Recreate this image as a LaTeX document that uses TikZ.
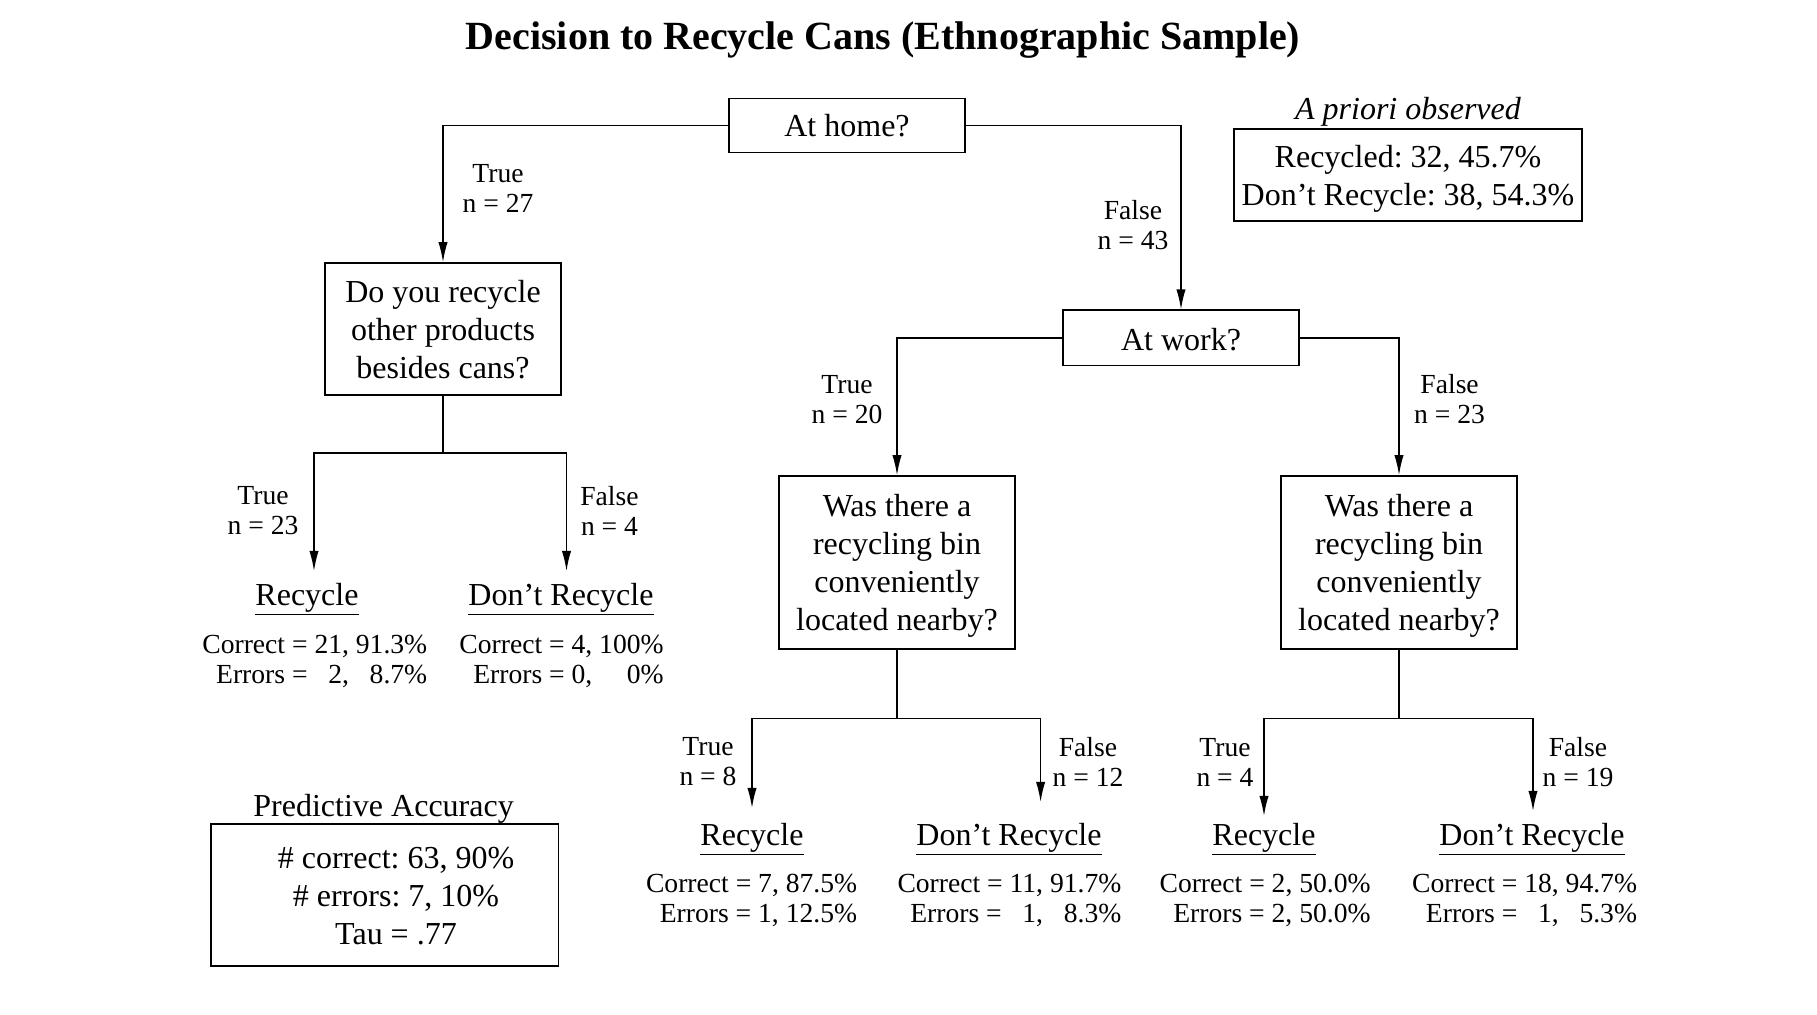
\documentclass[tikz,border=0pt]{standalone}
\usepackage{fontspec}
\setmainfont{Liberation Serif}
\frenchspacing
\usetikzlibrary{arrows.meta}
\tikzset{
  >={Latex[length=10pt,width=4.6pt]},
  conn/.style={line width=0.7pt},
  qbox/.style={draw, line width=0.8pt, inner sep=0pt},
  txt/.style={align=center, inner sep=0pt, font=\fontsize{16}{19}\selectfont},
  lbl/.style={align=center, inner sep=0pt, font=\fontsize{13.8}{15}\selectfont},
  stat/.style={align=right, anchor=east, inner sep=0pt, font=\fontsize{13.8}{15}\selectfont},
  leaf/.style={inner sep=0pt, font=\fontsize{16}{19}\selectfont},
}
\begin{document}
\begin{tikzpicture}[x=0.5pt,y=-0.5pt]
\useasboundingbox (0,0) rectangle (1817,1015);
% title
\node[inner sep=0pt, font=\fontsize{20}{24}\bfseries\selectfont] (title) at (883,40.5) {Decision to Recycle Cans (Ethnographic Sample)};
% a priori
\node[txt, font=\fontsize{16}{19}\itshape\selectfont] (aprlbl) at (1408,111.5) {A priori observed};
\node[qbox, minimum width=174pt, minimum height=46pt] (apr) at (1408,175) {};
\node[txt] (aprt) at (1408,178.5) {Recycled: 32, 45.7\%\\Don’t Recycle: 38, 54.3\%};
% questions
\node[qbox, minimum width=118pt, minimum height=27pt] (home) at (847,125.5) {};
\node[txt] (homet) at (847,126) {At home?};
\node[qbox, minimum width=118pt, minimum height=66pt] (q2) at (443,329) {};
\node[txt] (q2t) at (443,329.5) {Do you recycle\\other products\\besides cans?};
\node[qbox, minimum width=118pt, minimum height=27.7pt] (work) at (1181,338) {};
\node[txt] (workt) at (1181,339.5) {At work?};
\node[qbox, minimum width=118pt, minimum height=86.5pt] (q3) at (897,562.5) {};
\node[txt] (q3t) at (897,565.5) {Was there a\\recycling bin\\conveniently\\located nearby?};
\node[qbox, minimum width=118pt, minimum height=86.5pt] (q4) at (1399,562.5) {};
\node[txt] (q4t) at (1399,565.5) {Was there a\\recycling bin\\conveniently\\located nearby?};
% predictive accuracy
\node[txt] (predlbl) at (383.6,809) {Predictive Accuracy};
\node[qbox, minimum width=173.7pt, minimum height=71pt] (pred) at (384.7,895) {};
\node[txt] (predtxt) at (396,896) {\# correct: 63, 90\%\\\# errors: 7, 10\%\\Tau = .77};
% top connectors
\draw[conn,->] (home.west) -| (q2.north);
\draw[conn,->] (home.east) -| (work.north);
\node[lbl] (t1) at (498,188) {True\\n = 27};
\node[lbl] (f1) at (1133,225) {False\\n = 43};
% q2 branches
\coordinate (s2) at (443,453);
\coordinate (a21) at (314,571);
\coordinate (a22) at (566.5,571);
\draw[conn] (q2.south) -- (s2);
\draw[conn,->] (s2) -| (a21);
\draw[conn,->] (s2) -| (a22);
\node[lbl] (t2) at (263,511) {True\\n = 23};
\node[lbl] (f2) at (609.5,511) {False\\n = 4};
\node[leaf] (r21) at (307,599.5) {\underline{Recycle}};
\node[leaf] (r22) at (561,599.5) {\underline{Don’t Recycle}};
\node[stat] (c21) at (427.6,661.5) {Correct = 21, 91.3\%\\Errors = \phantom{0}2, \phantom{0}8.7\%};
\node[stat] (c22) at (664,661.5) {Correct = 4, 100\%\\Errors = 0, \phantom{00}0\%};
% work branches
\draw[conn,->] (work.west) -| (q3.north);
\draw[conn,->] (work.east) -| (q4.north);
\node[lbl] (t3) at (847,399.5) {True\\n = 20};
\node[lbl] (f3) at (1449.6,399.5) {False\\n = 23};
% q3 branches
\coordinate (s3) at (897,718.5);
\coordinate (a31) at (752,808);
\coordinate (a32) at (1040.6,802);
\draw[conn] (q3.south) -- (s3);
\draw[conn,->] (s3) -| (a31);
\draw[conn,->] (s3) -| (a32);
\node[lbl] (t31) at (708,762) {True\\n = 8};
\node[lbl] (f31) at (1088,762) {False\\n = 12};
\node[leaf] (r31) at (752,839.5) {\underline{Recycle}};
\node[leaf] (r32) at (1009,839.5) {\underline{Don’t Recycle}};
\node[stat] (c31) at (857.5,900.5) {Correct = 7, 87.5\%\\Errors = 1, 12.5\%};
\node[stat] (c32) at (1121.7,900.5) {Correct = 11, 91.7\%\\Errors = \phantom{0}1, \phantom{0}8.3\%};
% q4 branches
\coordinate (s4) at (1399,718.5);
\coordinate (a41) at (1264,816);
\coordinate (a42) at (1533,811);
\draw[conn] (q4.south) -- (s4);
\draw[conn,->] (s4) -| (a41);
\draw[conn,->] (s4) -| (a42);
\node[lbl] (t41) at (1225,762) {True\\n = 4};
\node[lbl] (f41) at (1578,762) {False\\n = 19};
\node[leaf] (r41) at (1264,839.5) {\underline{Recycle}};
\node[leaf] (r42) at (1532,839.5) {\underline{Don’t Recycle}};
\node[stat] (c41) at (1371,900.5) {Correct = 2, 50.0\%\\Errors = 2, 50.0\%};
\node[stat] (c42) at (1637.4,900.5) {Correct = 18, 94.7\%\\Errors = \phantom{0}1, \phantom{0}5.3\%};
\end{tikzpicture}
\end{document}
